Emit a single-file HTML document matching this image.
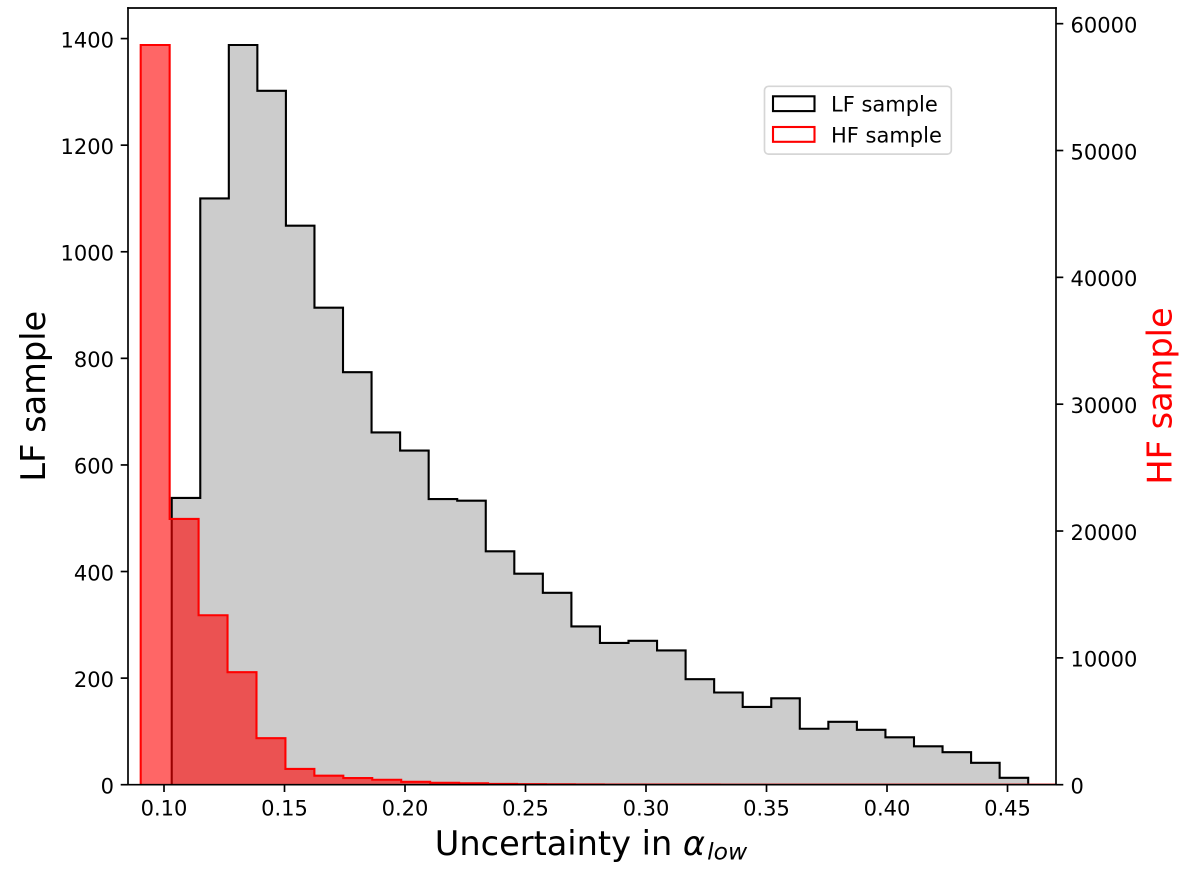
<!DOCTYPE html>
<html lang="en">
<head>
<meta charset="utf-8">
<title>Uncertainty histogram</title>
<style>
html,body{margin:0;padding:0;background:#fff;width:1200px;height:875px;overflow:hidden}
svg{display:block}
text{font-family:"DejaVu Sans","Liberation Sans",sans-serif;fill:#000}
.tick{font-size:21px}
.axis-title{font-size:33.6px}
</style>
</head>
<body>
<svg id="chart" xmlns="http://www.w3.org/2000/svg" width="1200" height="875" viewBox="0 0 1200 875">
  <defs>
    <clipPath id="plot-clip"><rect x="128" y="8" width="928" height="776.7"/></clipPath>
  </defs>
  <g id="marks" clip-path="url(#plot-clip)"></g>
  <g id="ticks"></g>
  <g fill="none" stroke="#000" stroke-width="1.68" stroke-linecap="square">
    <line x1="128" y1="8" x2="128" y2="784.7"/>
    <line x1="1056" y1="8" x2="1056" y2="784.7"/>
    <line x1="128" y1="8" x2="1056" y2="8"/>
    <line x1="128" y1="784.7" x2="1056" y2="784.7"/>
  </g>
  <text class="axis-title" x="591" y="855" text-anchor="middle">Uncertainty in <tspan font-style="italic">α</tspan><tspan font-style="italic" font-size="23.5" dx="2" dy="4.5">low</tspan></text>
  <text class="axis-title" transform="translate(45 396.2) rotate(-90)" text-anchor="middle">LF sample</text>
  <text class="axis-title" transform="translate(1171.7 396) rotate(-90)" text-anchor="middle" style="fill:#ff0000">HF sample</text>
  <g>
    <rect x="764.5" y="86.3" width="186.8" height="67.8" rx="4" ry="4" fill="#fff" fill-opacity="0.8" stroke="#cccccc" stroke-opacity="0.8" stroke-width="1.68"/>
    <rect x="773" y="96.3" width="41.5" height="14.8" fill="none" stroke="#000" stroke-width="2.1"/>
    <text class="tick" x="831" y="111.7">LF sample</text>
    <rect x="773" y="127" width="41.5" height="14.8" fill="none" stroke="#ff0000" stroke-width="2.1"/>
    <text class="tick" x="831" y="142.3">HF sample</text>
  </g>
</svg>
<script>
// Chart data
const lfCounts = [538,1100,1388,1302,1049,895,774,661,627,536,533,438,396,360,297,266,270,252,198,173,146,162,105,118,103,89,72,61,41,13];
const hfCounts = [58320,20950,13360,8870,3670,1240,710,520,390,230,150,110,60,40,30,20,15,12,10,8,6,5,4,3,3,2,2,1,1,1,1,1];
const lfBinStart = 0.1032;
const lfBinWidth = 0.011846;
const hfBinStart = 0.09033;
const hfBinWidth = 0.01201;
const xTickValues = [0.10,0.15,0.20,0.25,0.30,0.35,0.40,0.45];
const leftTickValues = [0,200,400,600,800,1000,1200,1400];
const rightTickValues = [0,10000,20000,30000,40000,50000,60000];

// Axis domains
const xDomain = [0.08506,0.47012];
const leftDomain = [0,1457.4];
const rightDomain = [0,61236];
const plot = {left:128,right:1056,top:8,bottom:784.7};

function xScale(v){
  return plot.left + (v - xDomain[0]) / (xDomain[1] - xDomain[0]) * (plot.right - plot.left);
}
function yLeft(v){
  return plot.bottom - (v - leftDomain[0]) / (leftDomain[1] - leftDomain[0]) * (plot.bottom - plot.top);
}
function yRight(v){
  return plot.bottom - (v - rightDomain[0]) / (rightDomain[1] - rightDomain[0]) * (plot.bottom - plot.top);
}

const NS = 'http://www.w3.org/2000/svg';
const marks = document.getElementById('marks');
const ticks = document.getElementById('ticks');

function stepPath(counts, start, width, yFn){
  let d = 'M' + xScale(start).toFixed(2) + ' ' + plot.bottom;
  counts.forEach(function(c, i){
    const x0 = xScale(start + i * width).toFixed(2);
    const x1 = xScale(start + (i + 1) * width).toFixed(2);
    const y = yFn(c).toFixed(2);
    d += 'L' + x0 + ' ' + y + 'L' + x1 + ' ' + y;
  });
  d += 'L' + xScale(start + counts.length * width).toFixed(2) + ' ' + plot.bottom;
  return d;
}

const lfD = stepPath(lfCounts, lfBinStart, lfBinWidth, yLeft);
const hfD = stepPath(hfCounts, hfBinStart, hfBinWidth, yRight);

const lfFill = document.createElementNS(NS, 'path');


lfFill.setAttribute('d', lfD + 'Z');
lfFill.setAttribute('fill', '#000');
lfFill.setAttribute('fill-opacity', '0.2');
marks.appendChild(lfFill);

const lfLine = document.createElementNS(NS, 'path');


lfLine.setAttribute('d', lfD);
lfLine.setAttribute('fill', 'none');
lfLine.setAttribute('stroke', '#000');
lfLine.setAttribute('stroke-width', '2.1');
lfLine.setAttribute('stroke-linejoin', 'miter');
marks.appendChild(lfLine);

const hfFill = document.createElementNS(NS, 'path');


hfFill.setAttribute('d', hfD + 'Z');
hfFill.setAttribute('fill', '#ff0000');
hfFill.setAttribute('fill-opacity', '0.6');
marks.appendChild(hfFill);

const hfLine = document.createElementNS(NS, 'path');


hfLine.setAttribute('d', hfD);
hfLine.setAttribute('fill', 'none');
hfLine.setAttribute('stroke', '#ff0000');
hfLine.setAttribute('stroke-width', '2.1');
hfLine.setAttribute('stroke-linejoin', 'miter');
marks.appendChild(hfLine);

xTickValues.forEach(function(v){
  const x = xScale(v);
  const mark = document.createElementNS(NS, 'line');
  
  
  mark.setAttribute('x1', x);
  mark.setAttribute('x2', x);
  mark.setAttribute('y1', plot.bottom);
  mark.setAttribute('y2', plot.bottom + 7.3);
  mark.setAttribute('stroke', '#000');
  mark.setAttribute('stroke-width', '1.68');
  ticks.appendChild(mark);
  const label = document.createElementNS(NS, 'text');
  
  
  label.setAttribute('class', 'tick');
  label.setAttribute('x', x);
  label.setAttribute('y', plot.bottom + 31);
  label.setAttribute('text-anchor', 'middle');
  label.textContent = v.toFixed(2);
  ticks.appendChild(label);
});

leftTickValues.forEach(function(v){
  const y = yLeft(v);
  const mark = document.createElementNS(NS, 'line');
  
  
  mark.setAttribute('x1', plot.left - 7.3);
  mark.setAttribute('x2', plot.left);
  mark.setAttribute('y1', y);
  mark.setAttribute('y2', y);
  mark.setAttribute('stroke', '#000');
  mark.setAttribute('stroke-width', '1.68');
  ticks.appendChild(mark);
  const label = document.createElementNS(NS, 'text');
  
  
  label.setAttribute('class', 'tick');
  label.setAttribute('x', plot.left - 14);
  label.setAttribute('y', y + 8.8);
  label.setAttribute('text-anchor', 'end');
  label.textContent = String(v);
  ticks.appendChild(label);
});

rightTickValues.forEach(function(v){
  const y = yRight(v);
  const mark = document.createElementNS(NS, 'line');
  
  
  mark.setAttribute('x1', plot.right);
  mark.setAttribute('x2', plot.right + 7.3);
  mark.setAttribute('y1', y);
  mark.setAttribute('y2', y);
  mark.setAttribute('stroke', '#000');
  mark.setAttribute('stroke-width', '1.68');
  ticks.appendChild(mark);
  const label = document.createElementNS(NS, 'text');
  
  
  label.setAttribute('class', 'tick');
  label.setAttribute('x', plot.right + 14.5);
  label.setAttribute('y', y + 8.8);
  label.textContent = String(v);
  ticks.appendChild(label);
});
</script>
</body>
</html>
